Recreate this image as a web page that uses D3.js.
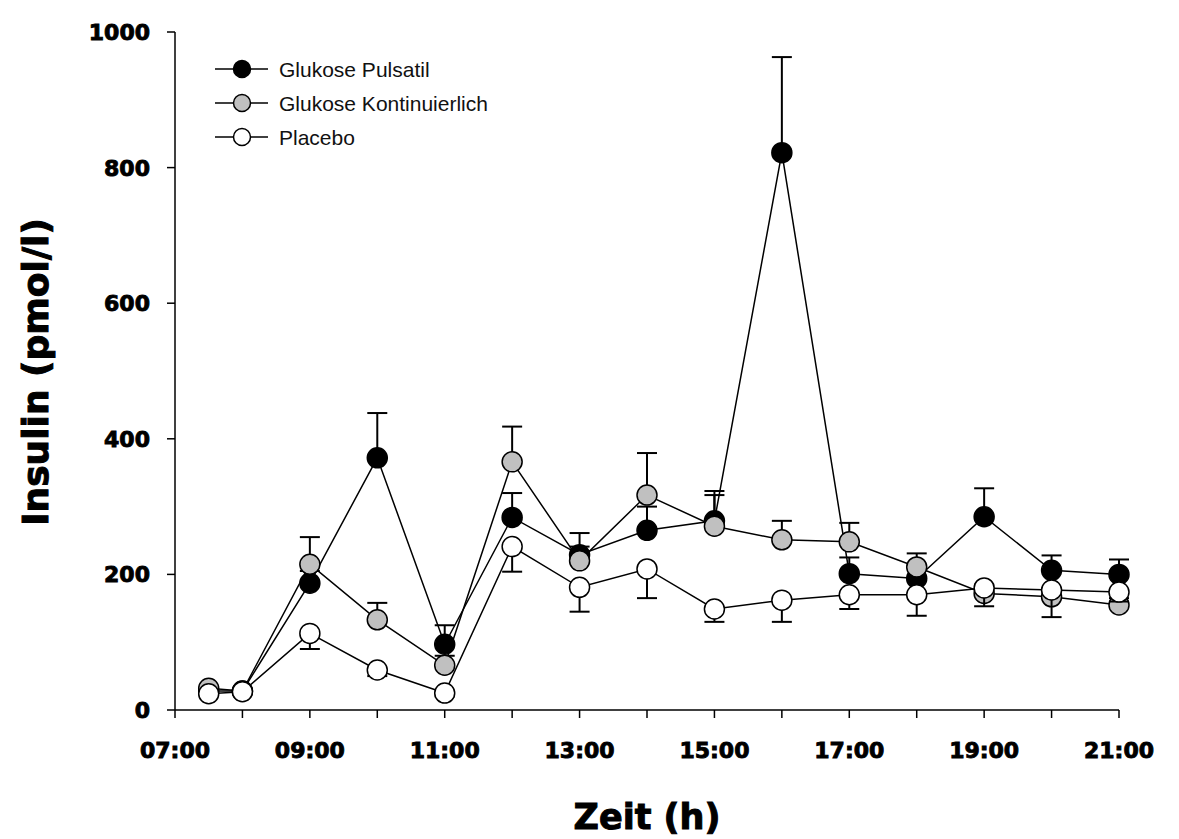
<!DOCTYPE html>
<html>
<head>
<meta charset="utf-8">
<script src="https://cdn.jsdelivr.net/npm/d3@7"></script>
<style>
  html, body { margin: 0; padding: 0; background: #fff; }
  svg { display: block; }
</style>
</head>
<body>
<svg id="chart" width="1179" height="839"></svg>
<script>
// ---- Data ----
const hours = [7.5, 8, 9, 10, 11, 12, 13, 14, 15, 16, 17, 18, 19, 20, 21];

const pulsatil      = [28, 28, 187, 372, 97, 284, 229, 265, 279, 822, 201, 194, 285, 206, 200];
const pulsatilErr   = [null, null, 205, 438, 125, 320, 241, 300, 323, 963, 225, 212, 327, 228, 222]; // upper bound

const kontinuierlich    = [32, 28, 215, 133, 66, 366, 220, 317, 271, 251, 248, 211, 172, 167, 155];
const kontinuierlichErr = [null, null, 255, 158, 80, 418, 261, 379, 317, 279, 276, 231, 185, 180, 165]; // upper bound

const placebo    = [24, 27, 113, 59, 25, 241, 181, 208, 149, 162, 170, 170, 180, 177, 174];
const placeboErr = [null, null, 90, 50, 20, 204, 145, 165, 130, 130, 149, 139, 153, 137, 160]; // lower bound

const xTickValues = [7, 9, 11, 13, 15, 17, 19, 21];
const xMinorTicks = [7, 8, 9, 10, 11, 12, 13, 14, 15, 16, 17, 18, 19, 20, 21];
const yTickValues = [0, 200, 400, 600, 800, 1000];

const seriesNames = ["Glukose Pulsatil", "Glukose Kontinuierlich", "Placebo"];
const seriesFills = ["#000000", "#c0c0c0", "#ffffff"];

// ---- Layout ----
const svg = d3.select("#chart");
const x = d3.scaleLinear().domain([7, 21]).range([175, 1119]);
const y = d3.scaleLinear().domain([0, 1000]).range([710, 32]);

const tickFont = "'DejaVu Sans', sans-serif";

// X axis
const xAxis = svg.append("g").attr("transform", `translate(0,${y(0)})`);
xAxis.append("line").attr("x1", x(7)).attr("x2", x(21)).attr("stroke", "#000").attr("stroke-width", 1.5);
xAxis.selectAll("line.tick").data(xMinorTicks).enter().append("line")
  .attr("class", "tick")
  .attr("x1", d => x(d)).attr("x2", d => x(d))
  .attr("y1", 0).attr("y2", 8)
  .attr("stroke", "#000").attr("stroke-width", 1.5);
xAxis.selectAll("text").data(xTickValues).enter().append("text")
  .attr("x", d => x(d)).attr("y", 48)
  .attr("text-anchor", "middle")
  .attr("font-family", tickFont).attr("font-weight", "bold").attr("font-size", 22)
  .attr("stroke", "#000").attr("stroke-width", 0.9)
  .text(d => String(d).padStart(2, "0") + ":00");

// Y axis
const yAxis = svg.append("g").attr("transform", `translate(${x(7)},0)`);
yAxis.append("line").attr("y1", y(0)).attr("y2", y(1000)).attr("stroke", "#000").attr("stroke-width", 1.5);
yAxis.selectAll("line.tick").data(yTickValues).enter().append("line")
  .attr("class", "tick")
  .attr("x1", -8).attr("x2", 0)
  .attr("y1", d => y(d)).attr("y2", d => y(d))
  .attr("stroke", "#000").attr("stroke-width", 1.5);
yAxis.selectAll("text").data(yTickValues).enter().append("text")
  .attr("x", -25).attr("y", d => y(d))
  .attr("dy", "0.36em")
  .attr("text-anchor", "end")
  .attr("font-family", tickFont).attr("font-weight", "bold").attr("font-size", 22)
  .attr("stroke", "#000").attr("stroke-width", 0.9)
  .text(d => d);

// Axis titles
svg.append("text")
  .attr("x", 647).attr("y", 829)
  .attr("text-anchor", "middle")
  .attr("font-family", tickFont).attr("font-weight", "bold").attr("font-size", 35)
  .attr("stroke", "#000").attr("stroke-width", 1)
  .text("Zeit (h)");
svg.append("text")
  .attr("transform", "translate(48,372) rotate(-90)")
  .attr("text-anchor", "middle")
  .attr("font-family", tickFont).attr("font-weight", "bold").attr("font-size", 36)
  .attr("stroke", "#000").attr("stroke-width", 1)
  .text("Insulin (pmol/l)");

// ---- Series ----
const series = [
  { name: seriesNames[0], values: pulsatil, err: pulsatilErr, fill: seriesFills[0] },
  { name: seriesNames[1], values: kontinuierlich, err: kontinuierlichErr, fill: seriesFills[1] },
  { name: seriesNames[2], values: placebo, err: placeboErr, fill: seriesFills[2] }
];

const line = d3.line().x(d => x(d[0])).y(d => y(d[1]));
const R = 10;

series.forEach(s => {
  const g = svg.append("g");
  const pts = hours.map((h, i) => [h, s.values[i], s.err[i]]);
  // error bars
  pts.filter(p => p[2] !== null).forEach(p => {
    g.append("line")
      .attr("x1", x(p[0])).attr("x2", x(p[0]))
      .attr("y1", y(p[1])).attr("y2", y(p[2]))
      .attr("stroke", "#000").attr("stroke-width", 2);
    g.append("line")
      .attr("x1", x(p[0]) - 10).attr("x2", x(p[0]) + 10)
      .attr("y1", y(p[2])).attr("y2", y(p[2]))
      .attr("stroke", "#000").attr("stroke-width", 2);
  });
  // line
  g.append("path")
    .datum(pts)
    .attr("d", line)
    .attr("fill", "none").attr("stroke", "#000").attr("stroke-width", 1.5);
  // markers
  g.selectAll("circle").data(pts).enter().append("circle")
    .attr("cx", d => x(d[0])).attr("cy", d => y(d[1]))
    .attr("r", R)
    .attr("fill", s.fill).attr("stroke", "#000").attr("stroke-width", 1.5);
});

// ---- Legend ----
const legend = svg.append("g");
const legendY = [69, 103, 137];
series.forEach((s, i) => {
  legend.append("line")
    .attr("x1", 215).attr("x2", 268)
    .attr("y1", legendY[i]).attr("y2", legendY[i])
    .attr("stroke", "#000").attr("stroke-width", 1.5);
  legend.append("circle")
    .attr("cx", 242).attr("cy", legendY[i]).attr("r", 8.5)
    .attr("fill", s.fill).attr("stroke", "#000").attr("stroke-width", 1.5);
  legend.append("text")
    .attr("x", 279).attr("y", legendY[i])
    .attr("dy", "0.36em")
    .attr("font-family", "'Liberation Sans', Arial, sans-serif")
    .attr("font-size", 21)
    .attr("fill", "#111")
    .text(s.name);
});
</script>
</body>
</html>
